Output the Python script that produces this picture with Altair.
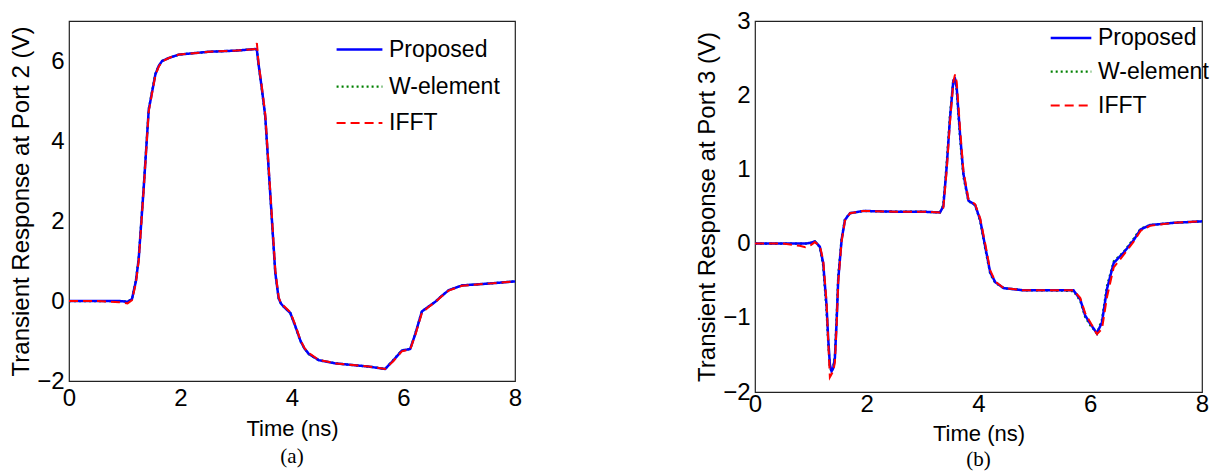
import altair as alt
import pandas as pd

# ---------------- Panel (a): Port 2 ----------------
t_a = [0, 0.5, 0.9, 1.05, 1.13, 1.2, 1.25, 1.34, 1.43, 1.55,
       1.61, 1.67, 1.8, 1.97, 2.5, 3.0, 3.34, 3.37, 3.40, 3.46,
       3.52, 3.58, 3.64, 3.70, 3.76, 3.80, 3.85, 3.97, 4.06, 4.15,
       4.22, 4.30, 4.48, 4.78, 5.38, 5.67, 5.82, 5.97, 6.12, 6.21,
       6.33, 6.45, 6.57, 6.68, 6.81, 7.05, 7.47, 8.0]
proposed_a = [0, 0, 0, -0.02, 0.05, 0.5, 1.05, 2.83, 4.78, 5.67,
              5.88, 6.0, 6.08, 6.16, 6.23, 6.26, 6.30, 6.28, 5.92, 5.3,
              4.62, 3.32, 2.02, 0.71, 0.07, -0.06, -0.14, -0.3, -0.63, -0.99,
              -1.18, -1.32, -1.48, -1.56, -1.64, -1.70, -1.48, -1.24, -1.2, -0.83,
              -0.26, -0.14, -0.02, 0.12, 0.27, 0.39, 0.43, 0.49]
welement_a = [0, 0, 0, -0.02, 0.05, 0.52, 1.08, 2.86, 4.8, 5.68,
              5.88, 6.0, 6.08, 6.16, 6.23, 6.26, 6.30, 6.28, 5.9, 5.28,
              4.6, 3.3, 2.0, 0.7, 0.07, -0.06, -0.14, -0.3, -0.64, -1.0,
              -1.18, -1.33, -1.48, -1.56, -1.64, -1.70, -1.47, -1.23, -1.2, -0.82,
              -0.26, -0.14, -0.02, 0.12, 0.27, 0.39, 0.43, 0.49]
ifft_a = [0, 0, -0.03, -0.06, 0.02, 0.45, 1.0, 2.78, 4.74, 5.65,
          5.86, 5.99, 6.08, 6.16, 6.23, 6.26, 6.30, 6.45, 5.95, 5.34,
          4.68, 3.4, 2.1, 0.78, 0.1, -0.05, -0.12, -0.28, -0.6, -0.97,
          -1.17, -1.3, -1.47, -1.56, -1.64, -1.70, -1.5, -1.26, -1.21, -0.86,
          -0.3, -0.15, -0.03, 0.11, 0.26, 0.38, 0.43, 0.49]

# ---------------- Panel (b): Port 3 ----------------
t_b = [0, 0.5, 0.8, 0.9, 1.0, 1.07, 1.16, 1.22, 1.28, 1.31,
       1.34, 1.37, 1.40, 1.43, 1.46, 1.49, 1.55, 1.61, 1.70, 1.94,
       2.5, 3.0, 3.31, 3.37, 3.43, 3.49, 3.55, 3.58, 3.61, 3.67,
       3.73, 3.82, 3.94, 4.03, 4.12, 4.21, 4.30, 4.45, 4.81, 5.3,
       5.70, 5.82, 5.91, 6.0, 6.12, 6.21, 6.30, 6.42, 6.60, 6.78,
       6.90, 7.07, 7.49, 8.0]
proposed_b = [0, 0, 0, 0, 0.01, 0.03, -0.04, -0.26, -0.83, -1.28,
              -1.63, -1.72, -1.68, -1.54, -1.06, -0.48, 0.05, 0.32, 0.41, 0.44,
              0.43, 0.43, 0.42, 0.50, 1.03, 1.69, 2.20, 2.22, 2.10, 1.47,
              0.94, 0.58, 0.52, 0.32, -0.04, -0.39, -0.52, -0.60, -0.63, -0.63,
              -0.63, -0.75, -0.97, -1.08, -1.21, -1.06, -0.61, -0.26, -0.12, 0.05,
              0.19, 0.25, 0.28, 0.30]
welement_b = [0, 0, 0, 0, 0.01, 0.03, -0.05, -0.3, -0.9, -1.33,
              -1.66, -1.73, -1.66, -1.5, -1.0, -0.42, 0.07, 0.33, 0.41, 0.44,
              0.43, 0.43, 0.42, 0.52, 1.08, 1.74, 2.22, 2.21, 2.06, 1.42,
              0.9, 0.57, 0.52, 0.3, -0.07, -0.41, -0.53, -0.60, -0.63, -0.63,
              -0.64, -0.77, -0.99, -1.1, -1.21, -1.02, -0.57, -0.24, -0.11, 0.07,
              0.2, 0.25, 0.28, 0.30]
ifft_b = [0, 0, -0.03, -0.05, -0.02, 0.02, -0.03, -0.22, -0.78, -1.3,
          -1.8, -1.76, -1.72, -1.6, -1.12, -0.52, 0.03, 0.31, 0.41, 0.44,
          0.43, 0.43, 0.42, 0.48, 0.98, 1.64, 2.18, 2.28, 2.18, 1.55,
          0.98, 0.6, 0.53, 0.34, 0.0, -0.36, -0.51, -0.60, -0.63, -0.63,
          -0.63, -0.73, -0.94, -1.06, -1.22, -1.15, -0.72, -0.32, -0.15, 0.03,
          0.17, 0.24, 0.28, 0.30]

series_names = ["Proposed", "W-element", "IFFT"]
series_colors = ["#0000ff", "#008000", "#ff0000"]
series_dashes = [[1, 0], [2, 3], [9, 5]]
series_widths = [2.5, 2.0, 3.0]
draw_order = ["W-element", "Proposed", "IFFT"]


def make_df(t, prop, wel, iff):
    vals = {"Proposed": prop, "W-element": wel, "IFFT": iff}
    rows = []
    for s in draw_order:
        for ti, vi in zip(t, vals[s]):
            rows.append({"t": ti, "v": vi, "series": s})
    return pd.DataFrame(rows)


df_a = make_df(t_a, proposed_a, welement_a, ifft_a)
df_b = make_df(t_b, proposed_b, welement_b, ifft_b)

FONT = "Liberation Sans"


def panel(df, ytitle, ydomain, yticks, w, h, leg_x, leg_y, sym, rowpad,
          caption, lab_pad_x, title_pad_x, cap_off):
    legend = alt.Legend(orient="none", legendX=leg_x, legendY=leg_y, title=None,
                        symbolType="stroke", symbolSize=sym, symbolStrokeWidth=2.5,
                        labelFont=FONT, labelFontSize=23, labelColor="black",
                        labelOffset=5, rowPadding=rowpad, padding=0)
    x = alt.X("t:Q", scale=alt.Scale(domain=[0, 8], nice=False),
              axis=alt.Axis(values=[0, 2, 4, 6, 8], title="Time (ns)",
                            labelFont=FONT, labelFontSize=24, labelColor="black",
                            labelPadding=lab_pad_x, labelFlush=False,
                            ticks=False, tickSize=0, domain=False, grid=False,
                            titleFont=FONT, titleFontSize=22, titleFontWeight="normal",
                            titleColor="black", titlePadding=title_pad_x))
    y = alt.Y("v:Q", scale=alt.Scale(domain=ydomain, nice=False, zero=False),
              axis=alt.Axis(values=yticks, title=ytitle,
                            labelFont=FONT, labelFontSize=24, labelColor="black",
                            labelPadding=5, labelFlush=False,
                            ticks=False, tickSize=0, domain=False, grid=False,
                            titleFont=FONT, titleFontSize=24, titleFontWeight="normal",
                            titleColor="black", titlePadding=3))
    return alt.Chart(df).mark_line(clip=True).encode(
        x=x,
        y=y,
        color=alt.Color("series:N", scale=alt.Scale(domain=series_names, range=series_colors),
                        legend=legend),
        strokeDash=alt.StrokeDash("series:N", scale=alt.Scale(domain=series_names, range=series_dashes),
                                  legend=legend),
        strokeWidth=alt.StrokeWidth("series:N", scale=alt.Scale(domain=series_names, range=series_widths),
                                    legend=legend),
    ).properties(
        width=w, height=h,
        title=alt.TitleParams(caption, orient="bottom", font="Liberation Serif",
                              fontSize=21, fontWeight="normal", color="black", offset=cap_off),
    )


left = panel(df_a, "Transient Response at Port 2 (V)", [-2, 7], [-2, 0, 2, 4, 6],
             446, 360, 266, 4, 2100, -12, "(a)", 5, 8, 7)
right = panel(df_b, "Transient Response at Port 3 (V)", [-2, 3], [-2, -1, 0, 1, 2, 3],
              447, 371, 294, -5, 1650, -12, "(b)", 0, 7, 5)

chart = alt.hconcat(left, right, spacing=172).resolve_scale(
    color="independent", strokeDash="independent", strokeWidth="independent"
).resolve_legend(
    color="independent", strokeDash="independent", strokeWidth="independent"
).configure(
    background="white"
).configure_view(
    stroke="#222222", strokeWidth=1.2
).properties(
    padding={"top": 0, "left": 1, "right": 0, "bottom": 0}
)

chart.save("out.html", embed_options={"renderer": "svg", "actions": False})
